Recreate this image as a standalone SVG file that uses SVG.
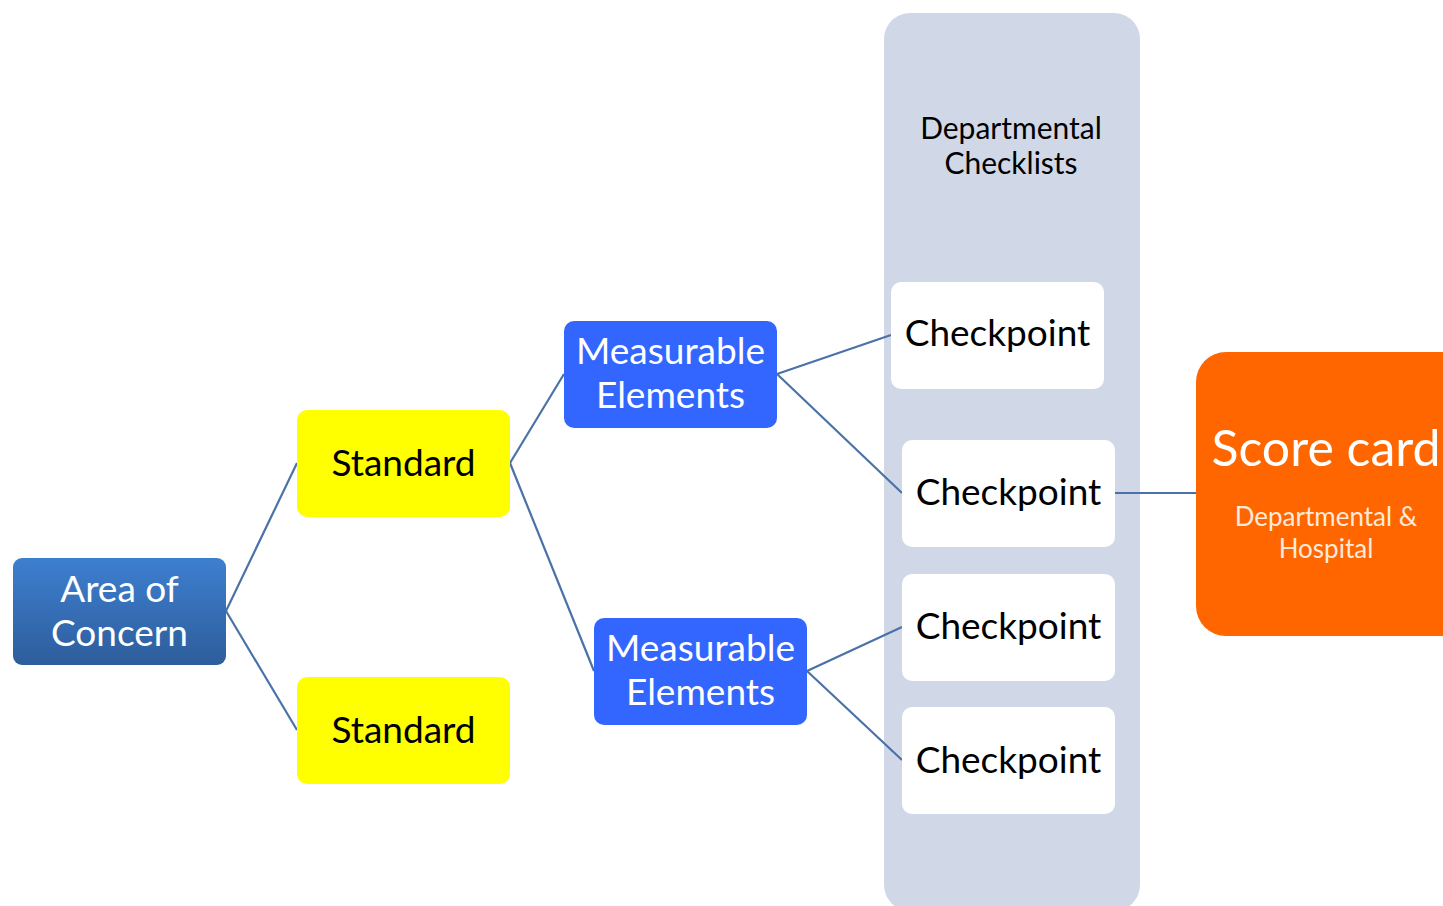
<svg xmlns="http://www.w3.org/2000/svg" width="1443" height="906" viewBox="0 0 1443 906">
  <defs>
    <linearGradient id="aocFill" x1="0" y1="0" x2="0" y2="1">
      <stop offset="0" stop-color="#3d7fd0"/>
      <stop offset="1" stop-color="#2e5d9b"/>
    </linearGradient>
  </defs>
  <style>
    text { font-family: Lato, "Open Sans", "Liberation Sans", sans-serif; text-anchor: middle; dominant-baseline: central; }
    .big { font-size: 37px; }
    .light { fill: #ffffff; }
    .dark { fill: #000000; }
    .edge { stroke: #4a72a8; stroke-width: 2.2; fill: none; }
    .std { fill: #ffff00; }
    .me { fill: #3366ff; }
    .cp { fill: #ffffff; }
  </style>

  <!-- departmental checklist band -->
  <g id="checklists">
    <rect x="884" y="13" width="256" height="898" rx="26" fill="#d0d8e7"/>
    <text x="1011" y="127" font-size="30" class="dark">Departmental</text>
    <text x="1011" y="162" font-size="30" class="dark">Checklists</text>
  </g>

  <g id="connectors">
    <line class="edge" x1="226" y1="611" x2="297" y2="463"/>
    <line class="edge" x1="226" y1="611" x2="297" y2="730"/>
    <line class="edge" x1="510" y1="463" x2="564" y2="374"/>
    <line class="edge" x1="510" y1="463" x2="594" y2="671"/>
    <line class="edge" x1="777" y1="374" x2="891" y2="335"/>
    <line class="edge" x1="777" y1="374" x2="902" y2="493"/>
    <line class="edge" x1="807" y1="671" x2="902" y2="627"/>
    <line class="edge" x1="807" y1="671" x2="902" y2="760"/>
    <line class="edge" x1="1115" y1="493" x2="1196" y2="493"/>
  </g>

  <g id="area-of-concern">
    <rect x="13" y="558" width="213" height="107" rx="9" fill="url(#aocFill)"/>
    <text x="119.5" y="587" class="big light">Area of</text>
    <text x="119.5" y="631" class="big light">Concern</text>
  </g>

  <g id="standard-1">
    <rect class="std" x="297" y="410" width="213" height="107" rx="10"/>
    <text x="403.5" y="461" class="big dark">Standard</text>
  </g>

  <g id="standard-2">
    <rect class="std" x="297" y="677" width="213" height="107" rx="10"/>
    <text x="403.5" y="728" class="big dark">Standard</text>
  </g>

  <g id="measurable-1">
    <rect class="me" x="564" y="321" width="213" height="107" rx="10"/>
    <text x="670.5" y="349" class="big light">Measurable</text>
    <text x="670.5" y="393" class="big light">Elements</text>
  </g>

  <g id="measurable-2">
    <rect class="me" x="594" y="618" width="213" height="107" rx="10"/>
    <text x="700.5" y="646" class="big light">Measurable</text>
    <text x="700.5" y="690" class="big light">Elements</text>
  </g>

  <g id="checkpoint-1">
    <rect class="cp" x="891" y="282" width="213" height="107" rx="10"/>
    <text x="997.5" y="331" class="big dark">Checkpoint</text>
  </g>

  <g id="checkpoint-2">
    <rect class="cp" x="902" y="440" width="213" height="107" rx="10"/>
    <text x="1008.5" y="490" class="big dark">Checkpoint</text>
  </g>

  <g id="checkpoint-3">
    <rect class="cp" x="902" y="574" width="213" height="107" rx="10"/>
    <text x="1008.5" y="624" class="big dark">Checkpoint</text>
  </g>

  <g id="checkpoint-4">
    <rect class="cp" x="902" y="707" width="213" height="107" rx="10"/>
    <text x="1008.5" y="758" class="big dark">Checkpoint</text>
  </g>

  <g id="score-card">
    <rect x="1196" y="352" width="290" height="284" rx="30" fill="#ff6600"/>
    <text x="1326" y="447" font-size="50" class="light">Score card</text>
    <text x="1326" y="516" font-size="26" fill="#ffeadb">Departmental &amp;</text>
    <text x="1326" y="548" font-size="26" fill="#ffeadb">Hospital</text>
  </g>
</svg>
